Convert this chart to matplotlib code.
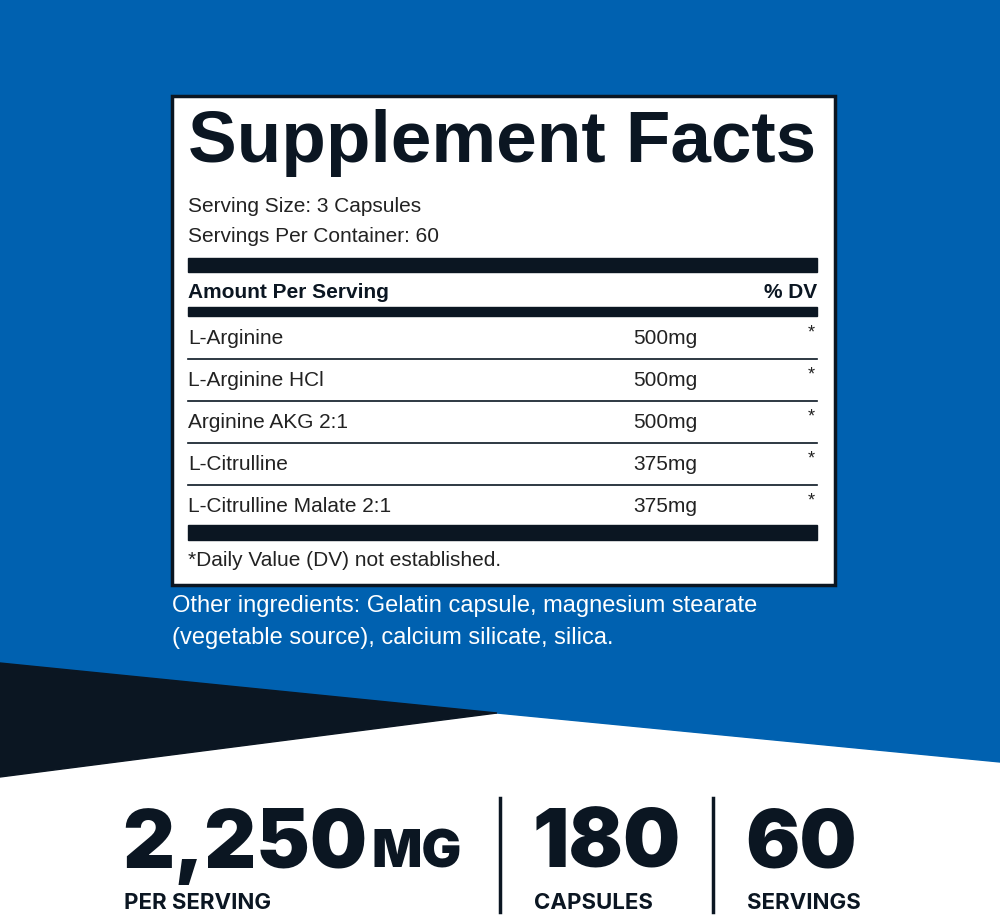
import matplotlib
matplotlib.use("Agg")
import matplotlib.pyplot as plt
from matplotlib.patches import Polygon, Rectangle

title = "Supplement Facts"
serving_lines = ["Serving Size: 3 Capsules", "Servings Per Container: 60"]
ingredients = ["L-Arginine", "L-Arginine HCl", "Arginine AKG 2:1", "L-Citrulline", "L-Citrulline Malate 2:1"]
amounts = ["500mg", "500mg", "500mg", "375mg", "375mg"]
footnote = "*Daily Value (DV) not established."
other = ["Other ingredients: Gelatin capsule, magnesium stearate",
         "(vegetable source), calcium silicate, silica."]
stats_big = ["2,250", "180", "60"]
stats_small = ["PER SERVING", "CAPSULES", "SERVINGS"]

BLUE = "#0061b0"
DARK = "#0b1622"
fig = plt.figure(figsize=(10, 9.17), dpi=100)
ax = fig.add_axes([0, 0, 1, 1])
ax.set_xlim(0, 1000); ax.set_ylim(917, 0); ax.axis("off")
ax.add_patch(Rectangle((0, 0), 1000, 917, color="white", zorder=0))
ax.add_patch(Polygon([(0, 0), (1000, 0), (1000, 762), (497, 713), (0, 663)], color=BLUE, zorder=1))
ax.add_patch(Polygon([(0, 663), (497, 713), (0, 777)], color=DARK, zorder=1))

# label box
ax.add_patch(Rectangle((172, 96), 663, 489, facecolor="white", edgecolor=DARK, lw=2.5, zorder=2))
F = "Liberation Sans"
ax.text(188, 143, title, fontsize=52.5, fontweight="bold", family=F, color=DARK, va="center", ha="left", zorder=3)
for i, s in enumerate(serving_lines):
    ax.text(188, 206 + 31 * i, s, fontsize=15, family=F, color="#222", va="center", zorder=3)
ax.add_patch(Rectangle((188, 258), 629, 14, color=DARK, zorder=3))
ax.text(188, 292, "Amount Per Serving", fontsize=15, fontweight="bold", family=F, color=DARK, va="center", zorder=3)
ax.text(817, 292, "% DV", fontsize=15, fontweight="bold", family=F, color=DARK, va="center", ha="right", zorder=3)
ax.add_patch(Rectangle((188, 307), 629, 9, color=DARK, zorder=3))
for i, (n, a) in enumerate(zip(ingredients, amounts)):
    y = 338 + 42 * i
    ax.text(188, y, n, fontsize=15, family=F, color="#222", va="center", zorder=3)
    ax.text(633, y, a, fontsize=15, family=F, color="#222", va="center", zorder=3)
    ax.text(815, y - 5, "*", fontsize=13, family=F, color="#222", va="center", ha="right", zorder=3)
    if i < len(ingredients) - 1:
        ax.plot([188, 817], [y + 21, y + 21], color=DARK, lw=1.2, zorder=3)
ax.add_patch(Rectangle((188, 525), 629, 15, color=DARK, zorder=3))
ax.text(188, 561, footnote, fontsize=15, family=F, color="#222", va="center", zorder=3)
for i, s in enumerate(other):
    ax.text(172, 606 + 32 * i, s, fontsize=17, family=F, color="white", va="center", zorder=3)

# bottom stats
xs = [122, 532, 745]
fig.canvas.draw()
r = fig.canvas.get_renderer()
first = None
for x, b, s in zip(xs, stats_big, stats_small):
    t = ax.text(x, 868, b, fontsize=58, fontweight="black", family="Inter", color=DARK, va="baseline", zorder=3)
    ax.text(x + 2, 903, s, fontsize=16, fontweight="bold", family="Inter", color=DARK, va="center", zorder=3)
    if first is None:
        first = t
bb = first.get_window_extent(renderer=r)
x_end = ax.transData.inverted().transform((bb.x1, bb.y0))[0]
ax.text(x_end + 4, 868, "MG", fontsize=38, fontweight="black", family="Inter", color=DARK, va="baseline", zorder=3)
for x in [500, 713]:
    ax.plot([x, x], [798, 912], color=DARK, lw=2.5, zorder=3)
fig.savefig("out.png", dpi=100)
